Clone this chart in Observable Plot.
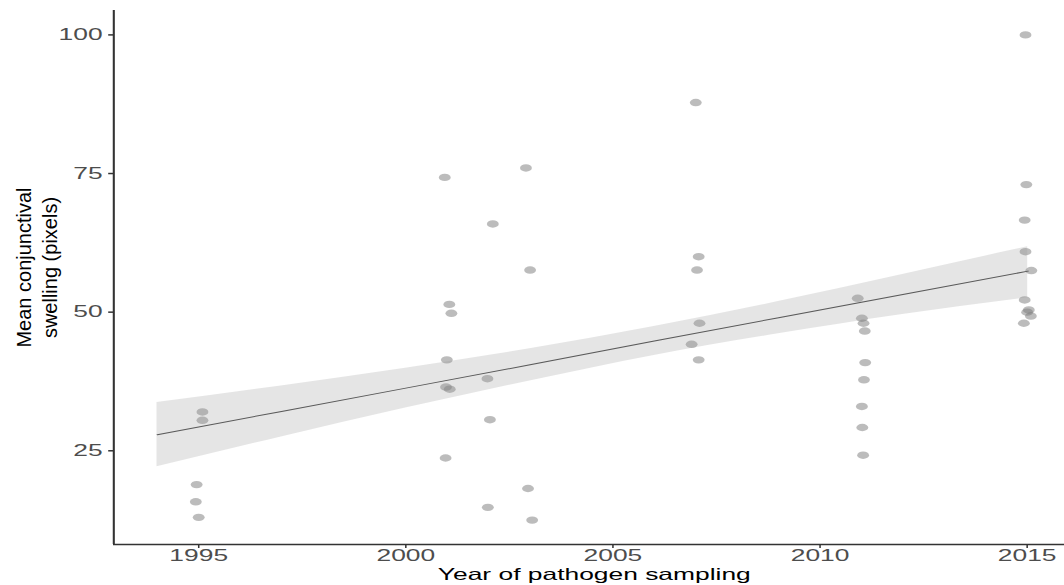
<!DOCTYPE html>
<html>
<head>
<meta charset="utf-8">
<script src="https://cdn.jsdelivr.net/npm/d3@7"></script>
<script src="https://cdn.jsdelivr.net/npm/@observablehq/plot@0.6"></script>
<style>
  html, body { margin: 0; padding: 0; background: #ffffff; overflow: hidden; }
  #chart { width: 1064px; height: 585px; overflow: hidden; }
</style>
</head>
<body>
<div id="chart"></div>
<script>
// ---- data (x jittered around sampling year) ----
const sampleYears = [
  1995.09, 1995.09, 1994.95, 1994.93, 1995.00,
  2000.94, 2001.05, 2001.10, 2000.99, 2000.97, 2001.06, 2000.96,
  2002.10, 2001.97, 2002.03, 2001.98,
  2002.90, 2003.00, 2002.95, 2003.05,
  2007.00, 2007.07, 2007.03, 2007.09, 2006.90, 2007.07,
  2010.91, 2011.01, 2011.05, 2011.08, 2011.09, 2011.06, 2011.01, 2011.02, 2011.04,
  2014.96, 2014.98, 2014.94, 2014.96, 2015.10, 2014.94, 2015.04, 2015.00, 2015.09, 2014.92
];
const swelling = [
  32.0, 30.5, 18.9, 15.8, 13.0,
  74.3, 51.4, 49.8, 41.4, 36.5, 36.1, 23.7,
  65.9, 38.0, 30.6, 14.8,
  76.0, 57.6, 18.2, 12.5,
  87.8, 60.0, 57.6, 48.0, 44.2, 41.4,
  52.5, 48.9, 48.0, 46.6, 40.9, 37.8, 33.0, 29.2, 24.2,
  100.0, 73.0, 66.6, 60.9, 57.5, 52.2, 50.4, 50.0, 49.3, 48.0
];

// linear fit and its confidence band
const fitYears  = [1994, 1997, 2000, 2003, 2006, 2009, 2012, 2015.02];
const fitValues = [27.9, 32.1, 36.3, 40.5, 44.8, 49.0, 53.2, 57.4];
const ciLow     = [22.1, 27.5, 32.7, 37.6, 42.2, 46.1, 49.6, 52.6];
const ciHigh    = [33.7, 36.7, 39.9, 43.4, 47.4, 51.9, 56.8, 61.8];

const xTicks = [1995, 2000, 2005, 2010, 2015];
const yTicks = [25, 50, 75, 100];
const xDomain = [1992.95, 2016.15];
const yDomain = [8.1, 104.4];

const xTitle = "Year of pathogen sampling";
const yTitle = "Mean conjunctival\nswelling (pixels)";

// ---- build tables ----
const points = sampleYears.map((yr, i) => ({year: yr, value: swelling[i]}));
const fitRows = fitYears.map((yr, i) => ({year: yr, fit: fitValues[i], low: ciLow[i], high: ciHigh[i]}));

// horizontal stretch of the original picture
const S = 1.6;
const FULLW = 1074;

const svg = Plot.plot({
  width: FULLW / S,
  height: 585,
  marginTop: 10,
  marginBottom: 41,
  marginLeft: 113 / S,
  marginRight: 0,
  style: {fontFamily: "'Liberation Sans', Arial, Helvetica, sans-serif", background: "#ffffff"},
  x: {domain: xDomain},
  y: {domain: yDomain},
  marks: [
    Plot.dot(points, {x: "year", y: "value", r: 3.7, fill: "#7a7a7a", fillOpacity: 0.5}),
    Plot.areaY(fitRows, {x: "year", y1: "low", y2: "high", fill: "#999999", fillOpacity: 0.25, curve: "natural"}),
    Plot.line(fitRows, {x: "year", y: "fit", stroke: "#5a5a5a", strokeWidth: 1}),
    Plot.ruleX([xDomain[0]], {stroke: "#333333", strokeWidth: 1.3}),
    Plot.ruleY([yDomain[0]], {stroke: "#333333", strokeWidth: 1.6}),
    Plot.axisX({ticks: xTicks, tickSize: 4, tickPadding: 1, fontSize: 16.5, label: null,
                stroke: "#333333", strokeWidth: 0.95, fill: "#4d4d4d", tickFormat: d => String(d)}),
    Plot.axisY({ticks: yTicks, tickSize: 3, tickPadding: 4, fontSize: 16.5, label: null,
                stroke: "#333333", strokeWidth: 1.5, fill: "#4d4d4d"}),
    Plot.text([xTitle], {text: d => d, frameAnchor: "bottom", lineAnchor: "top", dy: 23.7,
                         fontSize: 16.5, fill: "#000000"}),
    Plot.text([yTitle], {text: d => d, frameAnchor: "left", rotate: -90, textAnchor: "middle",
                         lineAnchor: "middle", lineHeight: 1.3, dx: 21.5 - 113 / S, dy: -10,
                         fontSize: 20, fill: "#000000"})
  ]
});

document.getElementById("chart").append(svg);

// stretch horizontally like the reference picture
svg.setAttribute("width", FULLW);
svg.setAttribute("height", 585);
svg.setAttribute("preserveAspectRatio", "none");
svg.style.width = FULLW + "px";
svg.style.height = "585px";
svg.style.maxWidth = "none";

// keep the rotated y title un-stretched
svg.querySelectorAll("text").forEach(t => {
  if (t.textContent.includes("Mean conjunctival")) {
    const tr = t.getAttribute("transform") || "";
    t.setAttribute("transform", tr + ` scale(1,${1 / S})`);
  }
});
</script>
</body>
</html>
